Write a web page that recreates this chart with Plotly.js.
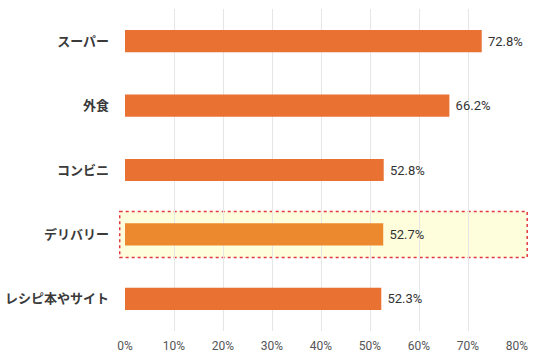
<!DOCTYPE html>
<html>
<head>
<meta charset="utf-8">
<script src="https://cdn.plot.ly/plotly-3.0.1.min.js"></script>
<style>html,body{margin:0;padding:0;background:#fff;}#chart{width:536px;height:357px;}</style>
</head>
<body>
<div id="chart"></div>
<script>
const categories = ["スーパー", "外食", "コンビニ", "デリバリー", "レシピ本やサイト"];
const values = [72.8, 66.2, 52.8, 52.7, 52.3];
const tickVals = [0, 10, 20, 30, 40, 50, 60, 70, 80];
const tickLabels = ["0%", "10%", "20%", "30%", "40%", "50%", "60%", "70%", "80%"];
const highlightCategory = "デリバリー";

const hiIdx = categories.indexOf(highlightCategory);
const colors = categories.map((c, i) => i === hiIdx ? "#EC892E" : "#E97132");

const trace = {
  type: "bar",
  orientation: "h",
  y: categories,
  x: values,
  width: 0.345,
  marker: {color: colors},
  text: values.map(v => " " + v.toFixed(1) + "%"),
  textposition: "outside",
  cliponaxis: false,
  textfont: {family: "Roboto, 'Noto Sans CJK JP', sans-serif", size: 13, color: "#333"},
  hoverinfo: "none"
};

const layout = {
  width: 536, height: 357,
  margin: {l: 125, r: 19, t: 9, b: 26},
  paper_bgcolor: "#fff", plot_bgcolor: "#fff",
  showlegend: false,
  xaxis: {
    range: [0, 80],
    tickvals: tickVals, ticktext: tickLabels,
    showgrid: true, gridcolor: "#e6e6e6", gridwidth: 1,
    zeroline: false, showline: false,
    ticks: "outside", ticklen: 4, tickcolor: "rgba(0,0,0,0)",
    tickfont: {family: "Roboto, 'Noto Sans CJK JP', sans-serif", size: 12, color: "#555"},
    fixedrange: true
  },
  yaxis: {
    autorange: "reversed",
    showgrid: false, zeroline: false, showline: false, ticks: "",
    ticklabelstandoff: 15,
    tickfont: {family: "'Noto Sans CJK JP', sans-serif", size: 13, color: "#3a3a3a", weight: "bold"},
    fixedrange: true
  },
  shapes: [{
    type: "rect", layer: "below",
    xref: "paper", yref: "y",
    x0: -0.0135, x1: 1.026,
    y0: hiIdx - 0.357, y1: hiIdx + 0.357,
    fillcolor: "#FFFEDC",
    line: {color: "#E0393E", width: 1.5, dash: "dot"}
  }]
};

Plotly.newPlot("chart", [trace], layout, {displayModeBar: false, staticPlot: true});
</script>
</body>
</html>
